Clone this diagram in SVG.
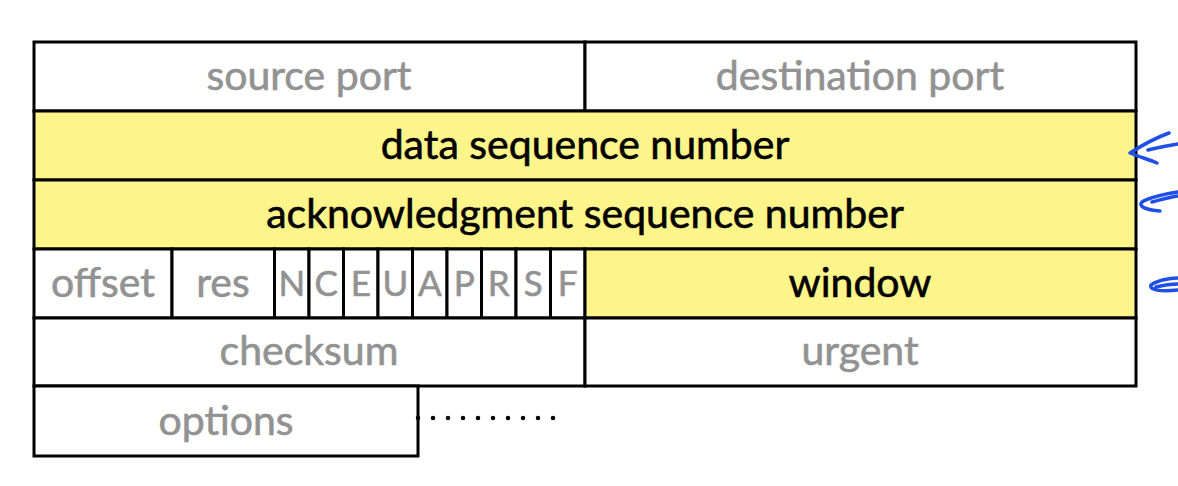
<svg xmlns="http://www.w3.org/2000/svg" width="1178" height="486" viewBox="0 0 1178 486">
<style>
.c{stroke:#000;stroke-width:3;fill:#fff}
.y{fill:#fdf58a}
.t{font-family:Lato,"Liberation Sans",sans-serif;font-size:41px;text-anchor:middle;fill:#929292;stroke:#929292;stroke-width:0.6}
.k{fill:#000;stroke:#000}
.f{font-size:35px}
.b{fill:none;stroke:#1f4fe8;stroke-width:3.5;stroke-linecap:round;stroke-linejoin:round}
</style>
<rect width="1178" height="486" fill="#fff"/>
<g id="source-port"><rect class="c" x="34" y="42" width="551" height="69"/><text class="t" x="309" y="90">source port</text></g>
<g id="destination-port"><rect class="c" x="585" y="42" width="551" height="69"/><text class="t" x="860" y="90">destination port</text></g>
<g id="data-seq"><rect class="c y" x="34" y="111" width="1102" height="69"/><text class="t k" x="585" y="159">data sequence number</text></g>
<g id="ack-seq"><rect class="c y" x="34" y="180" width="1102" height="69"/><text class="t k" x="585" y="228">acknowledgment sequence number</text></g>
<g id="offset"><rect class="c" x="34" y="249" width="138" height="69"/><text class="t" x="103" y="297">offset</text></g>
<g id="res"><rect class="c" x="172" y="249" width="102.5" height="69"/><text class="t" x="223" y="297">res</text></g>
<g id="flag-N"><rect class="c" x="274.5" y="249" width="34.5" height="69"/><text class="t f" x="291.75" y="296">N</text></g>
<g id="flag-C"><rect class="c" x="309" y="249" width="34.5" height="69"/><text class="t f" x="326.25" y="296">C</text></g>
<g id="flag-E"><rect class="c" x="343.5" y="249" width="34.5" height="69"/><text class="t f" x="360.75" y="296">E</text></g>
<g id="flag-U"><rect class="c" x="378" y="249" width="34.5" height="69"/><text class="t f" x="395.25" y="296">U</text></g>
<g id="flag-A"><rect class="c" x="412.5" y="249" width="34.5" height="69"/><text class="t f" x="429.75" y="296">A</text></g>
<g id="flag-P"><rect class="c" x="447" y="249" width="34.5" height="69"/><text class="t f" x="464.25" y="296">P</text></g>
<g id="flag-R"><rect class="c" x="481.5" y="249" width="34.5" height="69"/><text class="t f" x="498.75" y="296">R</text></g>
<g id="flag-S"><rect class="c" x="516" y="249" width="34.5" height="69"/><text class="t f" x="533.25" y="296">S</text></g>
<g id="flag-F"><rect class="c" x="550.5" y="249" width="34.5" height="69"/><text class="t f" x="567.75" y="296">F</text></g>
<g id="window"><rect class="c y" x="585" y="249" width="551" height="69"/><text class="t k" x="860" y="297">window</text></g>
<g id="checksum"><rect class="c" x="34" y="318" width="551" height="68"/><text class="t" x="309" y="365">checksum</text></g>
<g id="urgent"><rect class="c" x="585" y="318" width="551" height="68"/><text class="t" x="860" y="365">urgent</text></g>
<g id="options"><rect class="c" x="34" y="386" width="384" height="70"/><text class="t" x="226" y="435">options</text></g>
<g id="connectors">
<line x1="418" y1="418" x2="560" y2="418" stroke="#000" stroke-width="4.5" stroke-linecap="round" stroke-dasharray="0 15"/>
</g>
<g id="annotations">
<path class="b" d="M1169,133 C1158,137 1144,144 1130,153 C1140,157 1150,160 1157,163"/>
<path class="b" d="M1148,150 C1156,148 1166,146 1178,144"/>
<path class="b" d="M1178,192 C1165,194 1150,197 1142,202 C1138,206 1145,210 1160,211 M1152,202 C1160,200 1170,197 1178,196"/>
<path class="b" d="M1178,278 C1168,278 1156,281 1151,285 C1149,290 1160,292 1178,290 M1156,287 C1164,285 1172,284 1178,284"/>
</g>
</svg>
